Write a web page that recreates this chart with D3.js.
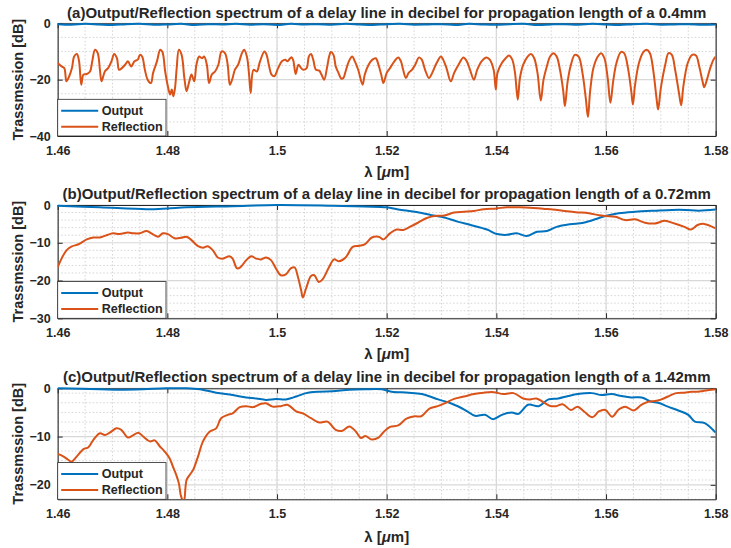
<!DOCTYPE html>
<html>
<head>
<meta charset="utf-8">
<script src="https://cdn.jsdelivr.net/npm/d3@7"></script>
<style>
  body { margin: 0; background: #fff; }
  text { font-family: "Liberation Sans", Arial, sans-serif; fill: #262626; }
</style>
</head>
<body>
<div id="chart"></div>
<script>
// wavelength ticks (um)
var xTicks = [1.46, 1.48, 1.50, 1.52, 1.54, 1.56, 1.58];
var seriesNames = ["Output", "Reflection"];

var titles = [
  "(a)Output/Reflection spectrum of a delay line in decibel for propagation length of a 0.4mm",
  "(b)Output/Reflection spectrum of a delay line in decibel for propagation length of a 0.72mm",
  "(c)Output/Reflection spectrum of a delay line in decibel for propagation length of a 1.42mm"
];

// panel (a), 0.4 mm
var outputA = [[1.46,-0.3],[1.4625,-0.5],[1.465,-0.2],[1.4675,-0.4],[1.47,-0.6],[1.4725,-0.3],[1.475,-0.2],[1.4775,-0.5],
  [1.48,-0.4],[1.4825,-0.2],[1.485,-0.6],[1.4875,-0.3],[1.49,-0.4],[1.4925,-0.2],[1.495,-0.5],[1.4975,-0.3],
  [1.50,-0.6],[1.5025,-0.2],[1.505,-0.4],[1.5075,-0.3],[1.51,-0.5],[1.5125,-0.2],[1.515,-0.4],[1.5175,-0.6],
  [1.52,-0.3],[1.5225,-0.2],[1.525,-0.5],[1.5275,-0.4],[1.53,-0.3],[1.5325,-0.6],[1.535,-0.2],[1.5375,-0.4],
  [1.54,-0.5],[1.5425,-0.3],[1.545,-0.2],[1.5475,-0.6],[1.55,-0.4],[1.5525,-0.3],[1.555,-0.5],[1.5575,-0.2],
  [1.56,-0.4],[1.5625,-0.6],[1.565,-0.3],[1.5675,-0.2],[1.57,-0.5],[1.5725,-0.4],[1.575,-0.3],[1.5775,-0.5],[1.58,-0.4]];

var reflectionA = [[1.4600,-14.1],[1.4607,-15.3],[1.4612,-15.9],[1.4616,-20.6],[1.4621,-18.8],[1.4626,-15.9],[1.4630,-11.8],
  [1.4635,-10.9],[1.4639,-13.5],[1.4643,-21.8],[1.4647,-18.2],[1.4653,-18.0],[1.4659,-17.1],[1.4663,-13.5],[1.4668,-9.4],
  [1.4673,-10.6],[1.4677,-16.5],[1.4680,-20.6],[1.4686,-17.1],[1.4692,-15.9],[1.4698,-13.5],[1.4703,-10.9],[1.4708,-12.4],
  [1.4712,-16.5],[1.4717,-15.9],[1.4723,-14.7],[1.4728,-13.5],[1.4734,-15.3],[1.4740,-13.5],[1.4746,-12.9],[1.4750,-11.2],
  [1.4754,-11.8],[1.4759,-16.5],[1.4764,-20.0],[1.4770,-21.2],[1.4774,-17.6],[1.4781,-13.5],[1.4787,-9.4],[1.4791,-10.2],
  [1.4796,-17.1],[1.4801,-22.4],[1.4805,-25.3],[1.4808,-23.5],[1.4811,-25.9],[1.4814,-22.9],[1.4817,-15.9],[1.4821,-9.4],
  [1.4826,-11.2],[1.4831,-19.4],[1.4835,-24.1],[1.4840,-20.6],[1.4844,-18.2],[1.4849,-20.6],[1.4853,-14.7],[1.4858,-11.8],
  [1.4863,-12.4],[1.4867,-11.8],[1.4872,-14.7],[1.4876,-21.2],[1.4881,-18.2],[1.4887,-17.1],[1.4893,-14.7],[1.4899,-10.0],
  [1.4905,-10.6],[1.4910,-14.7],[1.4914,-21.8],[1.4919,-19.4],[1.4923,-16.5],[1.4929,-14.7],[1.4936,-10.6],[1.4940,-9.4],
  [1.4945,-11.8],[1.4949,-18.2],[1.4952,-24.7],[1.4957,-16.5],[1.4963,-17.1],[1.4969,-13.5],[1.4977,-10.0],[1.4981,-11.2],
  [1.4985,-14.7],[1.4990,-18.2],[1.4995,-18.8],[1.5002,-15.9],[1.5009,-13.5],[1.5015,-12.9],[1.5019,-13.5],[1.5024,-12.4],
  [1.5027,-12.1],[1.5030,-13.5],[1.5034,-18.0],[1.5039,-14.7],[1.5044,-15.9],[1.5048,-16.5],[1.5054,-15.9],[1.5058,-11.8],
  [1.5062,-10.9],[1.5066,-12.9],[1.5071,-16.5],[1.5077,-16.8],[1.5081,-18.2],[1.5086,-20.0],[1.5091,-15.9],[1.5095,-11.8],
  [1.5098,-10.2],[1.5103,-11.2],[1.5107,-15.3],[1.5112,-17.6],[1.5117,-19.6],[1.5121,-19.4],[1.5125,-17.1],[1.5131,-13.5],
  [1.5137,-11.8],[1.5142,-13.5],[1.5148,-16.5],[1.5156,-21.8],[1.5160,-18.2],[1.5167,-14.7],[1.5174,-12.9],[1.5180,-12.4],
  [1.5185,-14.7],[1.5190,-18.2],[1.5194,-21.2],[1.5200,-17.6],[1.5206,-15.9],[1.5214,-13.5],[1.5221,-12.1],[1.5226,-13.5],
  [1.5230,-16.5],[1.5235,-19.4],[1.5240,-17.6],[1.5246,-16.5],[1.5252,-14.7],[1.5259,-12.1],[1.5264,-12.9],[1.5270,-16.5],
  [1.5277,-19.4],[1.5283,-17.6],[1.5291,-14.1],[1.5299,-11.8],[1.5303,-12.9],[1.5309,-15.9],[1.5317,-20.6],[1.5323,-17.6],
  [1.5331,-14.7],[1.5340,-12.1],[1.5346,-13.5],[1.5352,-16.5],[1.5359,-20.0],[1.5365,-16.5],[1.5373,-13.5],[1.5382,-12.1],
  [1.5388,-12.9],[1.5395,-16.5],[1.5399,-23.5],[1.5402,-17.6],[1.5410,-14.1],[1.5417,-12.4],[1.5423,-11.4],[1.5429,-12.9],
  [1.5434,-17.6],[1.5439,-27.1],[1.5443,-19.4],[1.5449,-14.7],[1.5457,-11.8],[1.5463,-10.9],[1.5469,-12.4],[1.5475,-17.6],
  [1.5481,-27.4],[1.5486,-20.0],[1.5492,-15.3],[1.5498,-11.8],[1.5504,-10.6],[1.5510,-11.8],[1.5516,-16.5],[1.5522,-24.1],
  [1.5525,-29.4],[1.5530,-20.6],[1.5536,-14.7],[1.5543,-11.2],[1.5550,-11.8],[1.5557,-17.6],[1.5563,-26.5],[1.5567,-33.3],
  [1.5571,-24.1],[1.5577,-15.9],[1.5585,-11.8],[1.5591,-10.6],[1.5597,-12.4],[1.5603,-19.4],[1.5608,-28.2],[1.5613,-20.6],
  [1.5619,-14.1],[1.5627,-10.2],[1.5633,-10.6],[1.5640,-15.9],[1.5646,-24.1],[1.5649,-28.8],[1.5653,-21.8],[1.5660,-14.1],
  [1.5668,-10.2],[1.5674,-9.4],[1.5680,-10.6],[1.5686,-16.5],[1.5692,-26.5],[1.5695,-30.6],[1.5700,-22.9],[1.5708,-14.7],
  [1.5714,-10.6],[1.5720,-11.2],[1.5726,-16.5],[1.5733,-24.7],[1.5737,-29.1],[1.5741,-22.4],[1.5749,-14.1],[1.5757,-11.2],
  [1.5764,-11.4],[1.5770,-15.3],[1.5776,-20.6],[1.5779,-22.7],[1.5784,-20.0],[1.5790,-15.9],[1.5796,-12.9],[1.5800,-11.8]];

// panel (b), 0.72 mm
var outputB = [[1.4600,-0.2],[1.4677,-0.6],[1.4762,-1.1],[1.4800,-0.9],[1.4835,-0.6],[1.4919,-0.3],[1.5000,0.0],
  [1.5100,-0.2],[1.5159,-0.4],[1.5200,-0.6],[1.5221,-1.2],[1.5251,-1.8],[1.5282,-2.7],[1.5305,-3.3],[1.5329,-4.4],
  [1.5353,-5.3],[1.5383,-6.5],[1.5401,-7.7],[1.5419,-7.9],[1.5437,-7.5],[1.5455,-8.2],[1.5474,-7.1],[1.5492,-6.9],
  [1.5510,-5.8],[1.5534,-5.1],[1.5559,-4.7],[1.5586,-3.5],[1.5599,-2.9],[1.5623,-2.2],[1.5653,-1.8],[1.5690,-1.5],
  [1.5720,-1.3],[1.5745,-1.3],[1.5769,-1.5],[1.5800,-1.2]];

var reflectionB = [[1.4600,-16.5],[1.4607,-14.2],[1.4616,-12.0],[1.4625,-11.0],[1.4638,-10.4],[1.4653,-9.1],[1.4665,-8.6],
  [1.4677,-8.6],[1.4689,-8.0],[1.4701,-7.5],[1.4713,-7.7],[1.4728,-7.3],[1.4738,-7.5],[1.4750,-7.5],[1.4762,-6.9],
  [1.4774,-7.8],[1.4783,-8.4],[1.4792,-7.5],[1.4801,-7.7],[1.4813,-8.8],[1.4825,-8.7],[1.4835,-8.4],[1.4844,-9.3],
  [1.4856,-10.9],[1.4865,-11.3],[1.4874,-10.9],[1.4883,-12.0],[1.4892,-13.9],[1.4901,-14.2],[1.4913,-13.6],[1.4919,-14.2],
  [1.4927,-16.8],[1.4933,-16.5],[1.4944,-14.6],[1.4953,-13.6],[1.4962,-14.2],[1.4971,-14.4],[1.4980,-13.9],[1.4989,-14.6],
  [1.4998,-16.8],[1.5007,-18.6],[1.5016,-18.4],[1.5025,-16.8],[1.5032,-16.5],[1.5038,-19.0],[1.5044,-22.6],[1.5047,-24.5],
  [1.5053,-22.1],[1.5062,-18.8],[1.5068,-18.6],[1.5076,-20.4],[1.5083,-19.7],[1.5095,-16.4],[1.5104,-14.4],[1.5113,-14.9],
  [1.5125,-13.9],[1.5138,-11.1],[1.5150,-10.8],[1.5160,-10.4],[1.5173,-8.6],[1.5185,-8.4],[1.5194,-9.1],[1.5206,-7.5],
  [1.5218,-6.5],[1.5230,-6.6],[1.5242,-5.8],[1.5257,-4.7],[1.5272,-3.5],[1.5287,-2.9],[1.5305,-2.8],[1.5323,-2.0],
  [1.5341,-1.8],[1.5359,-1.6],[1.5377,-1.1],[1.5400,-0.9],[1.5419,-0.6],[1.5443,-0.6],[1.5461,-0.7],[1.5485,-1.0],
  [1.5503,-1.2],[1.5521,-1.5],[1.5545,-1.9],[1.5569,-2.2],[1.5587,-2.7],[1.5599,-2.9],[1.5617,-3.1],[1.5635,-4.0],
  [1.5653,-3.8],[1.5671,-4.7],[1.5689,-4.9],[1.5707,-4.2],[1.5725,-4.9],[1.5743,-5.8],[1.5755,-6.5],[1.5767,-5.3],
  [1.5779,-5.0],[1.5800,-6.2]];

// panel (c), 1.42 mm
var outputC = [[1.4600,0.0],[1.4677,-0.2],[1.4713,-0.3],[1.4756,-0.2],[1.4798,0.0],[1.4835,0.0],[1.4859,-0.2],
  [1.4889,-0.9],[1.4919,-1.4],[1.4944,-1.9],[1.4962,-2.1],[1.4980,-2.4],[1.4998,-2.2],[1.5016,-2.3],[1.5035,-1.7],
  [1.5053,-1.0],[1.5077,-0.7],[1.5101,-0.6],[1.5132,-0.3],[1.5160,-0.2],[1.5191,-0.2],[1.5209,-0.7],[1.5240,-0.9],
  [1.5264,-1.2],[1.5294,-2.3],[1.5319,-3.2],[1.5343,-4.5],[1.5361,-5.7],[1.5379,-5.5],[1.5394,-6.4],[1.5410,-5.5],
  [1.5428,-5.0],[1.5440,-5.3],[1.5458,-3.4],[1.5477,-3.7],[1.5495,-2.3],[1.5513,-2.1],[1.5531,-1.6],[1.5549,-1.2],
  [1.5574,-1.0],[1.5592,-1.4],[1.5610,-1.2],[1.5628,-1.6],[1.5646,-1.9],[1.5665,-1.9],[1.5683,-2.8],[1.5695,-3.0],
  [1.5713,-3.8],[1.5732,-4.6],[1.5750,-5.5],[1.5762,-6.9],[1.5780,-7.2],[1.5800,-9.2]];

var reflectionC = [[1.4600,-13.6],[1.4610,-14.1],[1.4619,-14.8],[1.4625,-15.2],[1.4635,-14.1],[1.4647,-12.6],[1.4656,-12.2],
  [1.4665,-10.7],[1.4677,-9.3],[1.4686,-9.7],[1.4695,-9.2],[1.4707,-8.3],[1.4716,-8.6],[1.4728,-10.2],[1.4738,-9.7],
  [1.4747,-9.2],[1.4756,-10.0],[1.4768,-11.0],[1.4777,-10.8],[1.4786,-12.0],[1.4795,-13.1],[1.4804,-14.5],[1.4810,-16.2],
  [1.4816,-17.9],[1.4821,-19.7],[1.4825,-22.4],[1.4830,-23.5],[1.4835,-19.0],[1.4841,-17.9],[1.4847,-16.9],[1.4856,-14.1],
  [1.4865,-11.0],[1.4877,-9.0],[1.4889,-8.3],[1.4898,-6.2],[1.4910,-5.5],[1.4919,-5.2],[1.4932,-3.9],[1.4944,-3.7],
  [1.4956,-3.9],[1.4971,-3.2],[1.4980,-3.1],[1.4992,-3.8],[1.5007,-3.7],[1.5019,-3.4],[1.5035,-4.8],[1.5047,-5.2],
  [1.5062,-6.2],[1.5077,-7.1],[1.5092,-6.9],[1.5107,-8.6],[1.5119,-8.8],[1.5132,-7.9],[1.5144,-9.0],[1.5153,-10.3],
  [1.5161,-9.9],[1.5173,-10.6],[1.5185,-10.2],[1.5194,-9.1],[1.5206,-8.0],[1.5221,-7.7],[1.5236,-6.3],[1.5251,-5.8],
  [1.5263,-5.8],[1.5278,-4.2],[1.5293,-3.7],[1.5308,-3.0],[1.5323,-2.2],[1.5341,-1.7],[1.5359,-1.2],[1.5377,-0.9],
  [1.5395,-0.8],[1.5413,-1.2],[1.5431,-1.0],[1.5449,-2.1],[1.5461,-2.3],[1.5473,-2.1],[1.5485,-2.8],[1.5497,-3.6],
  [1.5509,-3.7],[1.5521,-3.3],[1.5536,-4.5],[1.5548,-3.8],[1.5560,-4.8],[1.5575,-6.0],[1.5587,-4.8],[1.5599,-4.5],
  [1.5611,-5.9],[1.5623,-4.4],[1.5635,-3.8],[1.5650,-4.6],[1.5665,-3.4],[1.5677,-2.8],[1.5692,-2.6],[1.5701,-2.3],
  [1.5713,-1.7],[1.5728,-1.0],[1.5743,-0.9],[1.5755,-0.7],[1.5767,-0.7],[1.5779,-0.5],[1.5800,-0.2]];

var yTicksA = [-40, -20, 0], yTicksB = [-30, -20, -10, 0], yTicksC = [-20, -10, 0];

var W = 731, H = 548;
var left = 57.7, right = 715.7;
var colors = ["#0072BD", "#D95319"];

var panels = [
  { title: titles[0], output: outputA, reflection: reflectionA, domain: [-40, 0], ticks: yTicksA, minor: 5,
    top: 23.3, bottom: 136, titleY: 17.5, tickY: 156, labelY: 177 },
  { title: titles[1], output: outputB, reflection: reflectionB, domain: [-30, 0], ticks: yTicksB, minor: 2,
    top: 205, bottom: 318.3, titleY: 198.5, tickY: 337, labelY: 359 },
  { title: titles[2], output: outputC, reflection: reflectionC, domain: [-23, 0], ticks: yTicksC, minor: 2,
    top: 388.3, bottom: 499.3, titleY: 382, tickY: 521, labelY: 542 }
];

var svg = d3.select("#chart").append("svg")
  .attr("width", W).attr("height", H);

var x = d3.scaleLinear().domain([1.46, 1.58]).range([left, right]);
var xMinor = d3.range(1.46, 1.5801, 0.005);

panels.forEach(function (p, i) {
  var y = d3.scaleLinear().domain(p.domain).range([p.bottom, p.top]);
  var g = svg.append("g");

  // minor grid
  var yMinor = d3.range(p.domain[0], p.domain[1] + 0.001, p.minor)
    .filter(function (v) { return p.ticks.indexOf(v) < 0; });
  g.selectAll(".mx").data(xMinor).enter().append("line")
    .attr("x1", function (d) { return x(d); }).attr("x2", function (d) { return x(d); })
    .attr("y1", p.top).attr("y2", p.bottom)
    .attr("stroke", "#d4d4d4").attr("stroke-dasharray", "1.5,2");
  g.selectAll(".my").data(yMinor).enter().append("line")
    .attr("y1", function (d) { return y(d); }).attr("y2", function (d) { return y(d); })
    .attr("x1", left).attr("x2", right)
    .attr("stroke", "#d4d4d4").attr("stroke-dasharray", "1.5,2");

  // major grid
  g.selectAll(".gx").data(xTicks).enter().append("line")
    .attr("x1", function (d) { return x(d); }).attr("x2", function (d) { return x(d); })
    .attr("y1", p.top).attr("y2", p.bottom)
    .attr("stroke", "#d8d8d8").attr("stroke-width", 1.2);
  g.selectAll(".gy").data(p.ticks).enter().append("line")
    .attr("y1", function (d) { return y(d); }).attr("y2", function (d) { return y(d); })
    .attr("x1", left).attr("x2", right)
    .attr("stroke", "#d8d8d8").attr("stroke-width", 1.2);

  // axes with inward ticks, box on
  var fmt = function (d) { return String(+d.toFixed(2)); };
  var ax = g.append("g").attr("transform", "translate(0," + p.bottom + ")")
    .call(d3.axisBottom(x).tickValues(xTicks).tickFormat(fmt).tickSizeInner(-5).tickSizeOuter(0).tickPadding(10));
  var ay = g.append("g").attr("transform", "translate(" + left + ",0)")
    .call(d3.axisLeft(y).tickValues(p.ticks).tickSizeInner(-5).tickSizeOuter(0).tickPadding(7));
  g.append("g").attr("transform", "translate(0," + p.top + ")")
    .call(d3.axisTop(x).tickValues(xTicks).tickFormat("").tickSizeInner(-5).tickSizeOuter(0));
  g.append("g").attr("transform", "translate(" + right + ",0)")
    .call(d3.axisRight(y).tickValues(p.ticks).tickFormat("").tickSizeInner(-5).tickSizeOuter(0));
  g.selectAll(".domain, .tick line").attr("stroke", "#262626");
  [ax, ay].forEach(function (a) {
    a.selectAll("text").attr("font-size", "12.5px").attr("font-weight", "bold").attr("fill", "#262626")
      .attr("font-family", "Liberation Sans, Arial, sans-serif");
  });

  // lines
  var clipId = "clip" + i;
  svg.append("clipPath").attr("id", clipId).append("rect")
    .attr("x", left).attr("y", p.top - 2).attr("width", right - left).attr("height", p.bottom - p.top + 2);
  var line = d3.line()
    .x(function (d) { return x(d[0]); })
    .y(function (d) { return y(d[1]); })
    .curve(d3.curveCatmullRom.alpha(0.5));
  var lg = g.append("g").attr("clip-path", "url(#" + clipId + ")");
  [p.output, p.reflection].forEach(function (s, k) {
    lg.append("path").datum(s).attr("d", line)
      .attr("fill", "none").attr("stroke", colors[k]).attr("stroke-width", 2)
      .attr("stroke-linejoin", "round");
  });

  // title and labels
  svg.append("text").attr("x", (left + right) / 2).attr("y", p.titleY)
    .attr("text-anchor", "middle").attr("font-weight", "bold").attr("font-size", "15px")
    .attr("fill", "#000").text(p.title);
  var xl = svg.append("text").attr("x", (left + right) / 2).attr("y", p.labelY)
    .attr("text-anchor", "middle").attr("font-weight", "bold").attr("font-size", "15px");
  xl.append("tspan").text("\u03bb [");
  xl.append("tspan").attr("font-style", "italic").text("\u03bc");
  xl.append("tspan").text("m]");
  svg.append("text")
    .attr("transform", "translate(23," + ((p.top + p.bottom) / 2) + ") rotate(-90)")
    .attr("text-anchor", "middle").attr("font-weight", "bold").attr("font-size", "14.5px")
    .text("Trassmssion [dB]");

  // legend
  var lw = 108.3, lh = 36.7;
  var leg = g.append("g").attr("transform", "translate(" + left + "," + (p.bottom - lh) + ")");
  leg.append("rect").attr("width", lw).attr("height", lh)
    .attr("fill", "#fff").attr("stroke", "#262626").attr("stroke-width", 0.8);
  seriesNames.forEach(function (n, k) {
    var yy = 11.5 + k * 16;
    leg.append("line").attr("x1", 3.5).attr("x2", 40.5).attr("y1", yy).attr("y2", yy)
      .attr("stroke", colors[k]).attr("stroke-width", 2);
    leg.append("text").attr("x", 44).attr("y", yy + 4.4)
      .attr("font-size", "12.6px").attr("font-weight", "bold").text(n);
  });
});
</script>
</body>
</html>
